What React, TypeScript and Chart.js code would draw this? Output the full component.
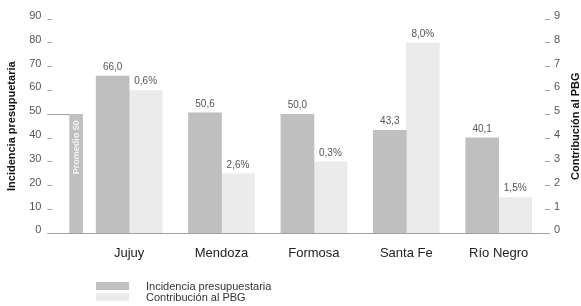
import React, { useEffect, useRef } from 'react';
import { Chart, registerables } from 'chart.js';

Chart.register(...registerables);

// ---- data ----
const CATEGORIES = ['Jujuy', 'Mendoza', 'Formosa', 'Santa Fe', 'Río Negro'];
const INCIDENCIA = [66.0, 50.6, 50.0, 43.3, 40.1];
const INCIDENCIA_LABELS = ['66,0', '50,6', '50,0', '43,3', '40,1'];
const CONTRIBUCION = [6.0, 2.5, 3.0, 8.0, 1.5];
const CONTRIBUCION_LABELS = ['0,6%', '2,6%', '0,3%', '8,0%', '1,5%'];
const PROMEDIO = [50];
const PROMEDIO_LABELS = ['Promedio 50'];
const SERIES_NAMES = ['Incidencia presupuestaria', 'Contribución al PBG'];
const AXIS_TITLES = ['Incidencia presupuetaria', 'Contribución al PBG'];

// ---- layout / style ----
const FONT = "'Liberation Sans', Arial, sans-serif";
const DARK = '#bfbfbf';
const LIGHT = '#ebebeb';
const LINE = '#a0a0a0';
const X_MIN = 0.17;
const X_MAX = 5.5;
const PROMEDIO_X = 0.426;

const overlayPlugin = {
  id: 'overlay',
  afterDatasetsDraw(chart: any) {
    const ctx = chart.ctx as CanvasRenderingContext2D;
    const area = chart.chartArea;
    const y = chart.scales.y;
    const zeroY = Math.round(y.getPixelForValue(0)) + 0.5;
    ctx.save();
    // zero baseline
    ctx.strokeStyle = LINE;
    ctx.lineWidth = 1;
    ctx.beginPath();
    ctx.moveTo(area.left - 5, zeroY);
    ctx.lineTo(area.right + 5, zeroY);
    ctx.stroke();

    // promedio line + label
    const pm = chart.getDatasetMeta(2).data[0];
    if (pm) {
      const topY = Math.round(pm.y) + 0.5;
      ctx.beginPath();
      ctx.moveTo(area.left - 5, topY);
      ctx.lineTo(pm.x - pm.width / 2, topY);
      ctx.stroke();
      ctx.save();
      ctx.translate(pm.x, pm.y + 6);
      ctx.rotate(-Math.PI / 2);
      ctx.fillStyle = '#f4f4f4';
      ctx.font = `bold 9px ${FONT}`;
      ctx.textAlign = 'right';
      ctx.textBaseline = 'middle';
      ctx.fillText(PROMEDIO_LABELS[0], 0, 0.5);
      ctx.restore();
    }

    // value labels
    ctx.fillStyle = '#555';
    ctx.font = `10px ${FONT}`;
    ctx.textAlign = 'center';
    ctx.textBaseline = 'bottom';
    [INCIDENCIA_LABELS, CONTRIBUCION_LABELS].forEach((labels, di) => {
      chart.getDatasetMeta(di).data.forEach((bar: any, i: number) => {
        ctx.fillText(labels[i], bar.x, bar.y - 4);
      });
    });

    // right axis title (reads bottom to top)
    ctx.save();
    ctx.translate(576, (area.top + area.bottom) / 2);
    ctx.rotate(-Math.PI / 2);
    ctx.fillStyle = '#111';
    ctx.font = `bold 11px ${FONT}`;
    ctx.textAlign = 'center';
    ctx.textBaseline = 'middle';
    ctx.fillText(AXIS_TITLES[1], 0, 0);
    ctx.restore();

    // legend
    const first = chart.getDatasetMeta(0).data[0];
    const boxLeft = Math.round(first.x - first.width / 2);
    const rows = [286, 297];
    ctx.font = `11px ${FONT}`;
    ctx.textAlign = 'left';
    ctx.textBaseline = 'middle';
    SERIES_NAMES.forEach((name, i) => {
      ctx.fillStyle = chart.data.datasets[i].backgroundColor;
      ctx.fillRect(boxLeft, rows[i] - 4, 33, 8);
      ctx.fillStyle = '#333';
      ctx.fillText(name, boxLeft + 50, rows[i] + 0.5);
    });
    ctx.restore();
  },
};

export default function App() {
  const ref = useRef<HTMLCanvasElement | null>(null);

  useEffect(() => {
    document.body.style.margin = '0';
    if (!ref.current) return;
    const chart = new Chart(ref.current, {
      type: 'bar',
      data: {
        datasets: [
          {
            label: SERIES_NAMES[0],
            data: INCIDENCIA.map((v, i) => ({ x: i + 1, y: v })),
            backgroundColor: DARK,
            yAxisID: 'y',
            barThickness: 33,
          },
          {
            label: SERIES_NAMES[1],
            data: CONTRIBUCION.map((v, i) => ({ x: i + 1, y: v })),
            backgroundColor: LIGHT,
            yAxisID: 'y1',
            barThickness: 33,
          },
          {
            label: PROMEDIO_LABELS[0],
            data: PROMEDIO.map((v) => ({ x: PROMEDIO_X, y: v })),
            backgroundColor: DARK,
            yAxisID: 'y',
            barThickness: 13,
            grouped: false,
          },
        ] as any,
      },
      options: {
        animation: false,
        responsive: false,
        maintainAspectRatio: false,
        layout: { padding: { left: 0, right: 17, top: 19, bottom: 33 } },
        plugins: {
          legend: { display: false },
          tooltip: { enabled: false },
        },
        scales: {
          x: {
            type: 'linear',
            offset: false,
            min: X_MIN,
            max: X_MAX,
            grid: { display: false, drawTicks: false, offset: false },
            border: { display: false },
            afterBuildTicks: (scale: any) => {
              scale.ticks = CATEGORIES.map((_, i) => ({ value: i + 1 }));
            },
            ticks: {
              autoSkip: false,
              maxRotation: 0,
              padding: 12,
              color: '#222',
              font: { family: FONT, size: 13 },
              callback: (v: any) => CATEGORIES[Math.round(v) - 1] ?? '',
            },
          },
          y: {
            position: 'left',
            min: 0,
            max: 90,
            grid: { drawOnChartArea: false, drawTicks: true, tickLength: 5, color: LINE },
            border: { display: false },
            ticks: {
              stepSize: 10,
              padding: 6,
              labelOffset: -3,
              color: '#555',
              font: { family: FONT, size: 11 },
            },
            title: {
              display: true,
              text: AXIS_TITLES[0],
              color: '#111',
              font: { family: FONT, size: 11, weight: 'bold' },
              padding: { top: 5, bottom: 5 },
            },
          },
          y1: {
            position: 'right',
            min: 0,
            max: 9,
            grid: { drawOnChartArea: false, drawTicks: true, tickLength: 5, color: LINE },
            border: { display: false },
            ticks: {
              stepSize: 1,
              padding: 4,
              labelOffset: -3,
              color: '#555',
              font: { family: FONT, size: 11 },
            },
          },
        },
      } as any,
      plugins: [overlayPlugin],
    });
    return () => chart.destroy();
  }, []);

  return (
    <div style={{ width: 581, height: 306 }}>
      <canvas ref={ref} width={581} height={306} style={{ display: 'block' }} />
    </div>
  );
}
